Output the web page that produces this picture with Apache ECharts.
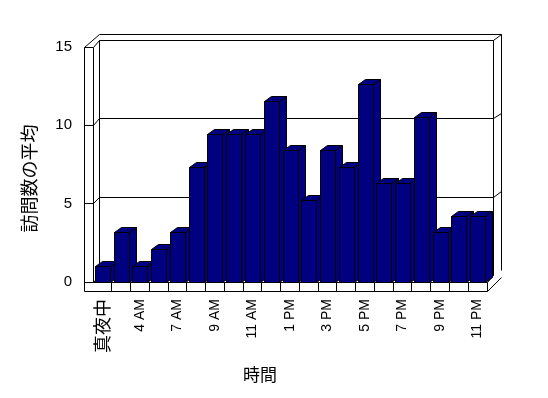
<!DOCTYPE html>
<html>
<head>
<meta charset="utf-8">
<script src="https://cdn.jsdelivr.net/npm/echarts@6/dist/echarts.min.js"></script>
<style>
html,body{margin:0;padding:0;background:#fff;}
#chart{width:548px;height:398px;}
</style>
</head>
<body>
<div id="chart"></div>
<script>
// ---- data ----
var categories = ['真夜中','1 AM','4 AM','6 AM','7 AM','8 AM','9 AM','10 AM','11 AM','12 PM','1 PM','2 PM','3 PM','4 PM','5 PM','6 PM','7 PM','8 PM','9 PM','10 PM','11 PM'];
var visits = [1.05, 3.16, 1.05, 2.11, 3.16, 7.37, 9.47, 9.47, 9.47, 11.58, 8.42, 5.26, 8.42, 7.37, 12.63, 6.32, 6.32, 10.53, 3.16, 4.21, 4.21];
var yTicks = [0, 5, 10, 15];
var xTitle = '時間';
var yTitle = '訪問数の平均';

var chart = echarts.init(document.getElementById('chart'), null, {renderer: 'canvas'});

function snap(v) { return Math.floor(v) + 0.5; }

var BAR_W = 15, DX = 7, DY = -5;       // bar depth
var WX = 6.5, WY = -6.5;               // front plane -> back wall
var OX = 14, OY = -13;                 // front plane -> back wall outer
var LW = 9;                            // left wall / floor thickness

function line(x1, y1, x2, y2) {
  return {type: 'line', shape: {x1: snap(x1), y1: snap(y1), x2: snap(x2), y2: snap(y2)},
          style: {stroke: '#000', lineWidth: 1}};
}

function renderFrame(params, api) {
  var cs = params.coordSys;
  var gx0 = cs.x, gx1 = cs.x + cs.width, gyT = cs.y, gy0 = cs.y + cs.height;
  var ch = [];
  // back wall inner face
  ch.push(line(gx0 + WX, gyT + WY, gx1 + WX, gyT + WY));
  ch.push(line(gx0 + WX, gyT + WY, gx0 + WX, gy0 + WY));
  ch.push(line(gx1 + WX, gyT + WY, gx1 + WX, gy0 + WY));
  ch.push(line(gx0 + WX, gy0 + WY, gx1 + WX, gy0 + WY));
  // back wall outer
  ch.push(line(gx0 + WX, gyT + OY, gx1 + OX, gyT + OY));
  ch.push(line(gx1 + OX, gyT + OY, gx1 + OX, gy0 + OY + 1));
  ch.push(line(gx1 + WX, gyT + WY, gx1 + OX, gyT + OY));
  // left wall
  ch.push(line(gx0 - LW, gyT, gx0 - LW, gy0 + LW));
  ch.push(line(gx0, gyT, gx0, gy0));
  ch.push(line(gx0 - LW, gyT, gx0 + WX, gyT + OY));
  // ticks / gridlines
  yTicks.forEach(function (t) {
    var y = api.coord([0, t])[1];
    ch.push(line(gx0 - LW, y, gx0, y));
    ch.push(line(gx0, y, gx0 + WX, y + WY));
    if (t > 0 && t < 15) {
      ch.push(line(gx0 + WX, y + WY, gx1 + WX, y + WY));
      ch.push(line(gx1 + WX, y + WY, gx1 + OX, y + OY + 1));
    }
  });
  // floor
  ch.push(line(gx0, gy0, gx1, gy0));
  ch.push(line(gx0 - LW, gy0 + LW, gx1, gy0 + LW));
  ch.push(line(gx1, gy0, gx1, gy0 + LW));
  ch.push(line(gx1, gy0, gx1 + WX, gy0 + WY));
  ch.push(line(gx1, gy0 + LW, gx1 + OX, gy0 + OY + LW - 1));
  var n = categories.length, cw = cs.width / n;
  for (var k = 1; k < n; k++) {
    ch.push(line(gx0 + k * cw, gy0, gx0 + k * cw, gy0 + LW));
  }
  return {type: 'group', children: ch};
}

function renderBar(params, api) {
  var i = api.value(0), v = api.value(1);
  var p0 = api.coord([i, 0]), p1 = api.coord([i, v]);
  var xl = Math.round(p0[0] - BAR_W / 2) + 0.5, xr = xl + BAR_W;
  var yb = Math.round(p0[1]) + 0.5, yt = Math.round(p1[1]) + 0.5;
  var st = {fill: '#000080', stroke: '#000', lineWidth: 1};
  return {type: 'group', children: [
    {type: 'polygon', shape: {points: [[xr, yt], [xr + DX, yt + DY], [xr + DX, yb + DY], [xr, yb]]}, style: st},
    {type: 'polygon', shape: {points: [[xl, yt], [xr, yt], [xr + DX, yt + DY], [xl + DX, yt + DY]]}, style: st},
    {type: 'rect', shape: {x: xl, y: yt, width: BAR_W, height: yb - yt}, style: st}
  ]};
}

var option = {
  animation: false,
  backgroundColor: '#fff',
  grid: {left: 93, top: 47, width: 394, height: 235},
  xAxis: {
    type: 'category',
    data: categories,
    boundaryGap: true,
    axisLine: {show: false},
    axisTick: {show: false},
    axisLabel: {
      interval: 1, rotate: 90, margin: 17, color: '#000', fontSize: 14,
      fontFamily: 'Liberation Sans, Arial, sans-serif',
      formatter: function (v) { return v === '真夜中' ? '{j|' + v + '}' : v; },
      rich: {j: {fontSize: 18, fontFamily: 'Noto Sans CJK JP', color: '#000'}}
    },
    name: xTitle, nameLocation: 'middle', nameGap: 84,
    nameTextStyle: {fontSize: 17, fontFamily: 'Noto Sans CJK JP', color: '#000', padding: [0, 60, 0, 0]}
  },
  yAxis: {
    type: 'value', min: 0, max: 15, interval: 5,
    axisLine: {show: false}, axisTick: {show: false}, splitLine: {show: false},
    axisLabel: {margin: 21, color: '#000', fontSize: 15, fontFamily: 'Liberation Sans, Arial, sans-serif'},
    name: yTitle, nameLocation: 'middle', nameRotate: 90, nameGap: 55,
    nameTextStyle: {fontSize: 18, fontFamily: 'Noto Sans CJK JP', color: '#000', padding: [0, 28, 0, 0]}
  },
  series: [
    {type: 'custom', z: 1, silent: true, clip: false, data: [[0, 0]], renderItem: renderFrame},
    {type: 'custom', z: 2, clip: false, data: visits.map(function (v, i) { return [i, v]; }),
     encode: {x: 0, y: 1}, renderItem: renderBar}
  ]
};
chart.setOption(option);
</script>
</body>
</html>
